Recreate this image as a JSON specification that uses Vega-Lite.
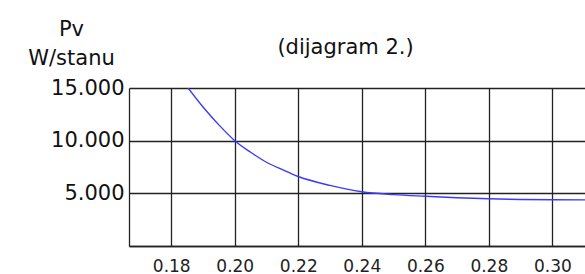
{
  "$schema": "https://vega.github.io/schema/vega-lite/v6.json",
  "autosize": "none",
  "width": 457,
  "height": 158,
  "padding": {"left": 129, "top": 88, "right": 0, "bottom": 28},
  "background": "white",
  "title": {
    "text": "(dijagram 2.)",
    "font": "DejaVu Sans",
    "fontSize": 21,
    "fontWeight": "normal",
    "color": "#111",
    "anchor": "middle",
    "baseline": "alphabetic",
    "offset": 0,
    "dy": 57,
    "dx": -12
  },
  "data": {
    "values": [
      {"x": 0.1853, "p": 15000},
      {"x": 0.19, "p": 13200},
      {"x": 0.195, "p": 11500},
      {"x": 0.2, "p": 10000},
      {"x": 0.205, "p": 8900},
      {"x": 0.21, "p": 7950},
      {"x": 0.215, "p": 7250},
      {"x": 0.22, "p": 6600},
      {"x": 0.23, "p": 5750},
      {"x": 0.24, "p": 5150},
      {"x": 0.25, "p": 4880},
      {"x": 0.26, "p": 4720},
      {"x": 0.27, "p": 4580},
      {"x": 0.28, "p": 4480},
      {"x": 0.29, "p": 4420},
      {"x": 0.3, "p": 4390},
      {"x": 0.3106, "p": 4380}
    ]
  },
  "mark": {"type": "line", "color": "#3a3aff", "strokeWidth": 1.4, "interpolate": "monotone", "clip": true},
  "encoding": {
    "x": {
      "field": "x",
      "type": "quantitative",
      "scale": {"domain": [0.1667, 0.3106], "nice": false, "zero": false},
      "axis": {
        "title": null,
        "values": [0.18, 0.2, 0.22, 0.24, 0.26, 0.28, 0.3],
        "format": ".2f",
        "ticks": false,
        "tickSize": 0,
        "labelPadding": 12,
        "labelFont": "DejaVu Sans",
        "labelFontSize": 17,
        "labelColor": "#222",
        "labelDx": 2,
        "grid": true,
        "gridColor": "#222",
        "gridWidth": 1.3,
        "gridOpacity": 1,
        "domainColor": "#222",
        "domainWidth": 1.3
      }
    },
    "y": {
      "field": "p",
      "type": "quantitative",
      "scale": {"domain": [0, 15000], "nice": false},
      "axis": {
        "values": [0, 5000, 10000, 15000],
        "labelExpr": "datum.value == 0 ? '' : replace(format(datum.value, ','), ',', '.')",
        "ticks": false,
        "tickSize": 0,
        "labelPadding": 5,
        "labelFont": "DejaVu Sans",
        "labelFontSize": 21,
        "labelColor": "#111",
        "grid": true,
        "gridColor": "#222",
        "gridWidth": 1.3,
        "gridOpacity": 1,
        "domainColor": "#222",
        "domainWidth": 1.3,
        "title": ["Pv", "W/stanu"],
        "titleFont": "DejaVu Sans",
        "titleFontSize": 21,
        "titleFontWeight": "normal",
        "titleColor": "#111",
        "titleAngle": 0,
        "titleAlign": "center",
        "titleBaseline": "alphabetic",
        "titleX": -58,
        "titleY": -53,
        "titleLineHeight": 29
      }
    }
  },
  "config": {"view": {"stroke": null}}
}
